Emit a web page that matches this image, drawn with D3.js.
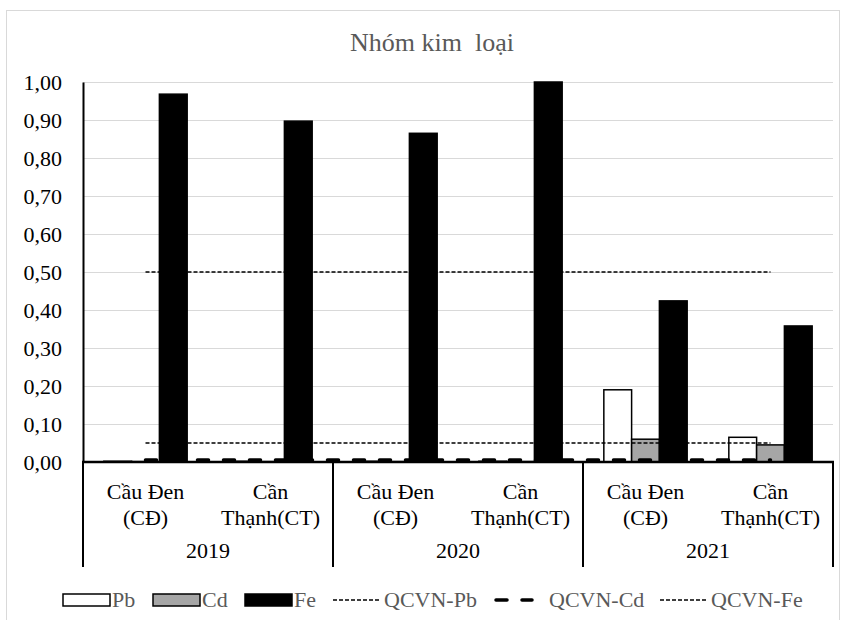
<!DOCTYPE html>
<html>
<head>
<meta charset="utf-8">
<script src="https://cdn.jsdelivr.net/npm/d3@7"></script>
<style>
  body { margin: 0; background: #fff; }
</style>
</head>
<body>
<svg width="844" height="620"></svg>
<script>
const years = ["2019", "2020", "2021"]
const sites = [["Cầu Đen", "(CĐ)"], ["Cần", "Thạnh(CT)"]]
const categories = ["CĐ-2019", "CT-2019", "CĐ-2020", "CT-2020", "CĐ-2021", "CT-2021"]

const pb = [0.002, 0.002, 0.002, 0.002, 0.19, 0.065]
const cd = [0.001, 0.001, 0.001, 0.001, 0.06, 0.045]
const fe = [0.968, 0.897, 0.865, 1.00, 0.424, 0.358]

const qcvnPb = [0.05, 0.05, 0.05, 0.05, 0.05, 0.05]
const qcvnCd = [0.005, 0.005, 0.005, 0.005, 0.005, 0.005]
const qcvnFe = [0.5, 0.5, 0.5, 0.5, 0.5, 0.5]

const yTicks = [0, 0.1, 0.2, 0.3, 0.4, 0.5, 0.6, 0.7, 0.8, 0.9, 1.0]

const seriesNames = ["Pb", "Cd", "Fe"]
const seriesFill = {Pb: "#ffffff", Cd: "#a6a6a6", Fe: "#000000"}

const serif = "Liberation Serif"

function chart(){
    const svg = d3.select("svg")

    // outer frame
    svg.append("rect")
        .attr("x", 6.5).attr("y", 10.5)
        .attr("width", 833).attr("height", 640)
        .attr("fill", "none")
        .attr("stroke", "#d9d9d9")

    svg.append("text")
        .attr("x", 432).attr("y", 51)
        .attr("text-anchor", "middle")
        .attr("font-family", serif)
        .attr("font-size", 26)
        .attr("fill", "#595959")
        .style("white-space", "pre")
        .text("Nhóm kim  loại")

    const yScale = d3.scaleLinear().domain([0, 1]).range([462, 82])
    const xScale = d3.scaleBand().domain(categories).range([83, 833])
    const xInner = d3.scaleBand().domain(seriesNames)
        .range([0, xScale.bandwidth()]).paddingOuter(0.75)

    addGrid(yScale)
    addBars(yScale, xScale, xInner)
    addLines(yScale, xScale)
    addAxes(yScale, xScale)
    addLegend()
}

function addGrid(yScale){
    const grid = d3.axisLeft(yScale).tickValues(yTicks).tickSize(-750).tickFormat("")
    d3.select("svg")
        .append("g")
        .attr("id", "gridG")
        .attr("transform", "translate(83, 0)")
        .call(grid)

    d3.select("#gridG").selectAll("line").attr("stroke", "#d9d9d9")
    d3.select("#gridG").select("path.domain").remove()
}

function addBars(yScale, xScale, xInner){
    const rows = categories.map((c, i) => ({cat: c, Pb: pb[i], Cd: cd[i], Fe: fe[i]}))

    d3.select("svg")
        .append("g")
        .attr("id", "barsG")
        .selectAll("g.cat")
        .data(rows)
        .enter()
        .append("g")
        .attr("class", "cat")
        .attr("transform", d => `translate(${xScale(d.cat)}, 0)`)
        .selectAll("rect")
        .data(d => seriesNames.map(s => ({s: s, v: d[s]})))
        .enter()
        .append("rect")
        .attr("x", d => xInner(d.s))
        .attr("y", d => yScale(d.v))
        .attr("width", xInner.bandwidth())
        .attr("height", d => yScale(0) - yScale(d.v))
        .attr("fill", d => seriesFill[d.s])
        .attr("stroke", "#000")
        .attr("stroke-width", 1.5)
}

function addLines(yScale, xScale){
    const line = d3.line()
        .x((d, i) => xScale(categories[i]) + xScale.bandwidth() / 2)
        .y(d => yScale(d))

    d3.select("svg")
        .append("path")
        .attr("d", line(qcvnPb))
        .attr("fill", "none")
        .attr("stroke", "#000")
        .attr("stroke-width", 1.5)
        .attr("stroke-dasharray", "4,2")

    d3.select("svg")
        .append("path")
        .attr("d", line(qcvnFe))
        .attr("fill", "none")
        .attr("stroke", "#000")
        .attr("stroke-width", 1.5)
        .attr("stroke-dasharray", "4,2")

    d3.select("svg")
        .append("path")
        .attr("d", line(qcvnCd))
        .attr("fill", "none")
        .attr("stroke", "#000")
        .attr("stroke-width", 3.5)
        .attr("stroke-linecap", "round")
        .attr("stroke-dasharray", "11,15")
}

function addAxes(yScale, xScale){
    const yAxis = d3.axisLeft(yScale)
        .tickValues(yTicks)
        .tickSize(0)
        .tickPadding(21)
        .tickFormat(d => d3.format(".2f")(d).replace(".", ","))

    d3.select("svg")
        .append("g")
        .attr("id", "yAxisG")
        .attr("transform", "translate(83, 0)")
        .call(yAxis)

    d3.select("#yAxisG").select("path.domain")
        .attr("stroke", "#000").attr("stroke-width", 2)
    d3.select("#yAxisG").selectAll("text")
        .attr("font-family", serif)
        .attr("font-size", 22)
        .attr("fill", "#000")

    const svg = d3.select("svg")
    const axisG = svg.append("g").attr("id", "xAxisG")

    axisG.append("line")
        .attr("x1", 82).attr("x2", 834)
        .attr("y1", yScale(0)).attr("y2", yScale(0))
        .attr("stroke", "#000").attr("stroke-width", 2.5)

    // year separators
    const bw = xScale.bandwidth()
    const seps = [0, 2, 4].map(i => xScale(categories[i])).concat([xScale(categories[5]) + bw])
    axisG.selectAll("line.sep")
        .data(seps)
        .enter()
        .append("line")
        .attr("class", "sep")
        .attr("x1", d => d).attr("x2", d => d)
        .attr("y1", yScale(0)).attr("y2", 567)
        .attr("stroke", "#000").attr("stroke-width", 2)

    // site labels, two lines each
    categories.forEach((c, i) => {
        sites[i % 2].forEach((t, j) => {
            axisG.append("text")
                .attr("x", xScale(c) + bw / 2)
                .attr("y", 499 + j * 26)
                .attr("text-anchor", "middle")
                .attr("font-family", serif)
                .attr("font-size", 22)
                .text(t)
        })
    })

    axisG.selectAll("text.year")
        .data(years)
        .enter()
        .append("text")
        .attr("class", "year")
        .attr("x", (d, i) => xScale(categories[i * 2]) + bw)
        .attr("y", 558)
        .attr("text-anchor", "middle")
        .attr("font-family", serif)
        .attr("font-size", 22)
        .text(d => d)
}

function addLegend(){
    const g = d3.select("svg").append("g").attr("id", "legendG")
    const ly = 600

    const boxes = [
        {name: "Pb", x: 63}, {name: "Cd", x: 153}, {name: "Fe", x: 245}
    ]
    boxes.forEach(b => {
        g.append("rect")
            .attr("x", b.x).attr("y", ly - 6)
            .attr("width", 47).attr("height", 12)
            .attr("fill", seriesFill[b.name])
            .attr("stroke", "#000").attr("stroke-width", 1.5)
        g.append("text")
            .attr("x", b.x + 49).attr("y", ly + 7)
            .attr("font-family", serif)
            .attr("font-size", 22)
            .attr("fill", "#595959")
            .text(b.name)
    })

    const lines = [
        {name: "QCVN-Pb", x1: 333, x2: 381, w: 1.5, dash: "4,2", cap: "butt", tx: 384},
        {name: "QCVN-Cd", x1: 496, x2: 532, w: 3.5, dash: "11,15", cap: "round", tx: 549},
        {name: "QCVN-Fe", x1: 660, x2: 708, w: 1.5, dash: "4,2", cap: "butt", tx: 711}
    ]
    lines.forEach(l => {
        g.append("line")
            .attr("x1", l.x1).attr("x2", l.x2)
            .attr("y1", ly).attr("y2", ly)
            .attr("stroke", "#000")
            .attr("stroke-width", l.w)
            .attr("stroke-dasharray", l.dash)
            .attr("stroke-linecap", l.cap)
        g.append("text")
            .attr("x", l.tx).attr("y", ly + 7)
            .attr("font-family", serif)
            .attr("font-size", 22)
            .attr("fill", "#595959")
            .text(l.name)
    })
}

chart()
</script>
</body>
</html>
